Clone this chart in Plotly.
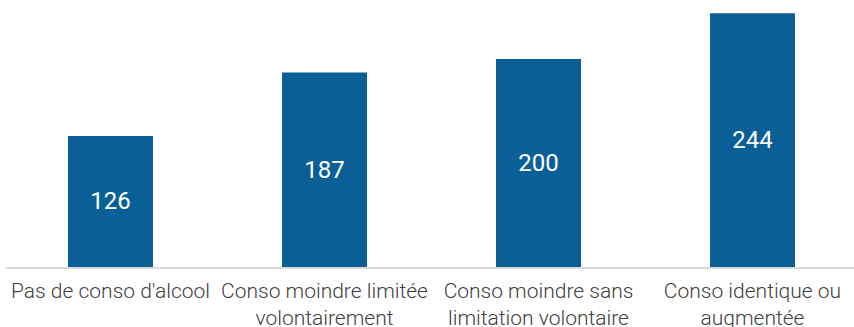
import plotly.graph_objects as go

# Categories (axis labels, with manual line breaks) and their values
categories = [
    "Pas de conso d'alcool",
    "Conso moindre limitée<br>volontairement",
    "Conso moindre sans<br>limitation volontaire",
    "Conso identique ou<br>augmentée",
]
values = [126, 187, 200, 244]

positions = list(range(len(categories)))

fig = go.Figure(
    go.Bar(
        x=positions,
        y=values,
        width=0.397,
        marker=dict(color="#0a6096", line=dict(width=0)),
        text=[str(v) for v in values],
        textposition="inside",
        insidetextanchor="middle",
        textfont=dict(family="Roboto", size=24, color="#ffffff"),
        cliponaxis=False,
    )
)

fig.update_layout(
    width=854,
    height=327,
    margin=dict(l=6, r=0, t=0, b=60, autoexpand=False),
    paper_bgcolor="#ffffff",
    plot_bgcolor="#ffffff",
    showlegend=False,
    uniformtext=dict(mode=False),
    xaxis=dict(
        range=[-0.4883, 3.4743],
        tickvals=positions,
        ticktext=categories,
        tickfont=dict(family="Roboto", size=21, color="#404040", weight=300),
        ticklabelstandoff=4,
        automargin=False,
        showgrid=False,
        zeroline=False,
        showline=True,
        linecolor="#d9d9d9",
        linewidth=1.5,
        ticks="",
        fixedrange=True,
    ),
    yaxis=dict(
        range=[0, 256.7],
        visible=False,
        automargin=False,
        showgrid=False,
        zeroline=False,
        fixedrange=True,
    ),
)

fig.write_html("out.html")
